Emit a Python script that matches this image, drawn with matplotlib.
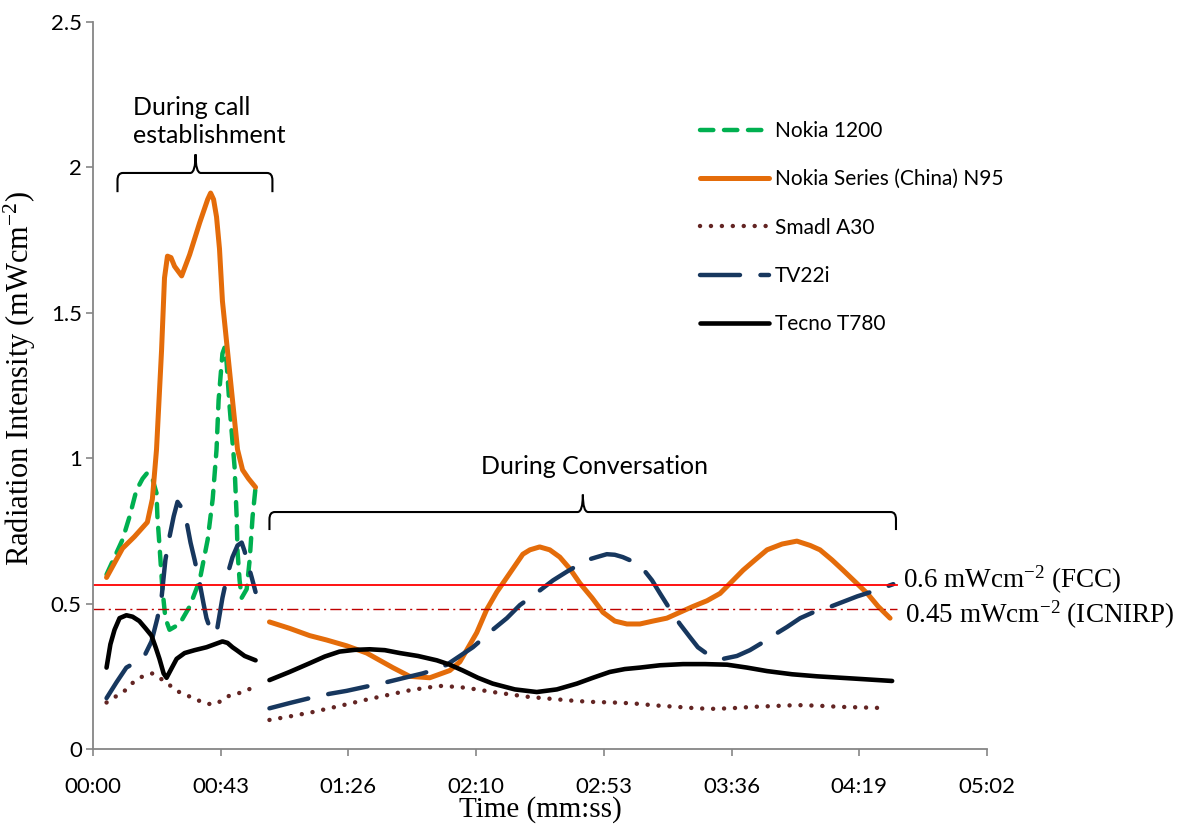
import matplotlib
matplotlib.use('Agg')
import matplotlib.pyplot as plt
from matplotlib.path import Path
from matplotlib.patches import PathPatch

plt.rcParams['mathtext.fontset'] = 'custom'
plt.rcParams['mathtext.rm'] = 'Liberation Serif'
plt.rcParams['mathtext.it'] = 'Liberation Serif:italic'
plt.rcParams['mathtext.bf'] = 'Liberation Serif:bold'

# time in seconds, intensity in mW/cm2
# --- during call establishment ---
t_call_green = [4.6, 7.3, 10.0, 12.4, 14.7, 16.8, 18.4, 20.1, 21.5, 21.8, 22.5, 23.5, 24.5,
                25.9, 29.3, 32.7, 36.1, 38.8, 40.5, 41.8, 42.5, 43.8, 44.5, 45.2, 46.2,
                47.9, 48.6, 48.9, 49.6, 50.3, 52.0, 53.0, 54.0, 55.0]
v_call_green = [0.60, 0.66, 0.72, 0.80, 0.89, 0.93, 0.95, 0.93, 0.88, 0.80, 0.70, 0.55, 0.45,
                0.41, 0.43, 0.49, 0.58, 0.72, 0.86, 1.03, 1.20, 1.36, 1.38, 1.33, 1.18,
                0.97, 0.80, 0.68, 0.58, 0.52, 0.55, 0.65, 0.80, 0.90]

t_call_orange = [4.6, 7.3, 10.0, 14.0, 18.4, 20.1, 21.5, 23.2, 24.2, 25.2, 26.4, 27.6, 30.0,
                 32.7, 36.1, 38.8, 39.8, 40.8, 41.8, 42.8, 43.8, 45.5, 47.2, 48.9, 50.6,
                 52.6, 55.0]
v_call_orange = [0.59, 0.64, 0.69, 0.73, 0.78, 0.86, 1.03, 1.37, 1.62, 1.695, 1.69, 1.66, 1.627,
                 1.70, 1.81, 1.89, 1.912, 1.89, 1.83, 1.72, 1.54, 1.37, 1.20, 1.03, 0.96,
                 0.93, 0.90]

t_call_brown = [4.6, 7.6, 10.7, 13.7, 16.8, 20.1, 23.2, 25.9, 28.3, 31.7, 35.0, 38.4, 41.8,
                45.2, 48.6, 52.0, 55.0]
v_call_brown = [0.16, 0.18, 0.20, 0.23, 0.25, 0.26, 0.24, 0.22, 0.20, 0.185, 0.17, 0.155, 0.155,
                0.18, 0.19, 0.20, 0.22]

t_call_navy = [4.6, 8.0, 11.3, 14.7, 17.4, 19.8, 21.8, 23.2, 24.5, 25.9, 27.3, 28.6, 30.0,
               31.7, 33.0, 34.4, 36.1, 37.4, 38.4, 40.1, 41.8, 42.8, 43.8, 45.5, 47.2,
               48.9, 50.3, 51.3, 52.3, 53.7, 55.0]
v_call_navy = [0.175, 0.23, 0.28, 0.30, 0.32, 0.37, 0.45, 0.52, 0.65, 0.73, 0.80, 0.85, 0.83,
               0.78, 0.71, 0.65, 0.57, 0.50, 0.45, 0.40, 0.40, 0.46, 0.52, 0.60, 0.66,
               0.70, 0.71, 0.68, 0.64, 0.59, 0.54]

t_call_black = [4.6, 5.9, 7.3, 9.0, 11.3, 13.4, 15.7, 17.8, 19.8, 21.2, 22.5, 23.9, 24.9,
                26.2, 28.3, 31.0, 34.4, 38.4, 41.1, 43.8, 45.5, 47.2, 48.6, 51.3, 55.0]
v_call_black = [0.28, 0.36, 0.41, 0.45, 0.46, 0.455, 0.44, 0.415, 0.39, 0.35, 0.31, 0.26, 0.245,
                0.27, 0.31, 0.33, 0.34, 0.35, 0.36, 0.37, 0.365, 0.35, 0.34, 0.32, 0.305]

# --- during conversation ---
t_conv_orange = [59.7, 66.5, 73.3, 79.0, 85.8, 92.6, 101.4, 107.1, 113.9, 120.7, 124.1, 126.4,
                 129.8, 133.2, 136.6, 140.0, 142.7, 145.4, 147.8, 151.1, 154.5, 157.9, 161.3,
                 164.7, 168.8, 172.5, 176.5, 180.6, 185.0, 189.4, 194.1, 198.5, 202.9, 207.7,
                 212.1, 216.5, 219.9, 223.9, 228.0, 233.1, 238.1, 242.6, 245.9, 250.0, 253.7,
                 257.8, 261.9, 265.6, 269.6]
v_conv_orange = [0.437, 0.415, 0.39, 0.375, 0.355, 0.33, 0.28, 0.25, 0.245, 0.27, 0.30, 0.34,
                 0.40, 0.48, 0.54, 0.59, 0.63, 0.67, 0.685, 0.695, 0.685, 0.66, 0.62,
                 0.57, 0.52, 0.47, 0.44, 0.43, 0.43, 0.44, 0.45, 0.47, 0.49, 0.51,
                 0.535, 0.58, 0.615, 0.65, 0.685, 0.705, 0.715, 0.70, 0.685, 0.65, 0.615,
                 0.575, 0.535, 0.49, 0.45]

t_conv_brown = [59.7, 66.5, 74.3, 83.4, 92.6, 99.4, 106.1, 112.2, 117.3, 124.1, 129.8, 135.2,
                141.0, 146.7, 152.2, 157.9, 163.7, 169.1, 175.9, 182.6, 190.1, 197.5, 202.9,
                208.7, 215.5, 223.3, 230.7, 238.1, 245.3, 252.7, 260.2, 267.3]
v_conv_brown = [0.10, 0.112, 0.127, 0.148, 0.17, 0.185, 0.20, 0.21, 0.217, 0.213, 0.205, 0.196,
                0.188, 0.18, 0.175, 0.17, 0.165, 0.162, 0.16, 0.157, 0.15, 0.145, 0.141,
                0.138, 0.14, 0.145, 0.148, 0.151, 0.149, 0.145, 0.143, 0.141]

t_conv_navy = [59.7, 66.5, 73.3, 80.1, 85.8, 92.6, 99.4, 105.4, 111.5, 116.3, 119.7, 124.1,
               128.5, 131.9, 135.2, 140.0, 144.4, 147.8, 151.1, 155.6, 160.3, 163.7, 167.1,
               170.4, 173.8, 176.5, 179.2, 182.6, 186.0, 189.1, 191.8, 195.2, 198.5, 201.9,
               204.6, 208.7, 213.1, 217.8, 222.2, 226.3, 230.0, 234.8, 239.2, 243.6, 248.3,
               253.4, 258.5, 264.6, 270.7]
v_conv_navy = [0.14, 0.158, 0.175, 0.19, 0.20, 0.215, 0.23, 0.245, 0.26, 0.275, 0.29, 0.32,
               0.35, 0.38, 0.41, 0.45, 0.495, 0.52, 0.545, 0.58, 0.61, 0.63, 0.65,
               0.66, 0.67, 0.668, 0.66, 0.645, 0.62, 0.58, 0.535, 0.48, 0.43, 0.385,
               0.35, 0.32, 0.31, 0.32, 0.34, 0.365, 0.39, 0.42, 0.45, 0.47, 0.485,
               0.505, 0.525, 0.545, 0.567]

t_conv_black = [59.7, 66.5, 73.3, 78.4, 83.4, 88.5, 93.6, 98.7, 103.8, 109.9, 116.3, 120.7,
                125.1, 130.2, 135.2, 142.7, 150.1, 156.9, 163.7, 169.1, 174.8, 179.9, 185.0,
                191.8, 199.6, 207.0, 214.5, 221.2, 228.0, 236.5, 244.9, 257.8, 270.3]
v_conv_black = [0.237, 0.265, 0.295, 0.318, 0.335, 0.341, 0.343, 0.34, 0.33, 0.32, 0.305, 0.29,
                0.27, 0.245, 0.225, 0.205, 0.196, 0.205, 0.225, 0.245, 0.265, 0.275, 0.28,
                0.288, 0.292, 0.292, 0.29, 0.28, 0.268, 0.257, 0.25, 0.242, 0.234]

labels = ['Nokia 1200', 'Nokia Series (China) N95', 'Smadl A30', 'TV22i', 'Tecno T780']
fcc_level = 0.565
icnirp_level = 0.48
limit_end = 272.0

x_ticks = [0, 43.2, 86.4, 129.6, 172.8, 216.0, 259.2, 302.4]
x_ticklabels = ['00:00', '00:43', '01:26', '02:10', '02:53', '03:36', '04:19', '05:02']
y_ticks = [0, 0.5, 1, 1.5, 2, 2.5]
y_ticklabels = ['0', '0.5', '1', '1.5', '2', '2.5']

SANS = ['Lato', 'DejaVu Sans']
SERIF = ['Liberation Serif', 'DejaVu Serif']

fig = plt.figure(figsize=(12.04, 8.26), dpi=100)
ax = fig.add_axes([0.0772, 0.0932, 0.7426, 0.8801])

green = dict(color='#00B050', lw=3.2, linestyle=(0, (3.0, 2.4)), dash_capstyle='round')
orange = dict(color='#E46C0A', lw=3.6, solid_capstyle='round', solid_joinstyle='round')
brown = dict(color='#632523', lw=3.2, linestyle=(0, (0.01, 2.45)), dash_capstyle='round')
navy = dict(color='#17375E', lw=3.2, linestyle=(0, (9.0, 4.6)), dash_capstyle='round')
black = dict(color='black', lw=3.3, solid_capstyle='round', solid_joinstyle='round')

ax.plot(t_call_green, v_call_green, label=labels[0], **green)
ax.plot(t_call_orange, v_call_orange, label=labels[1], **orange)
ax.plot(t_call_brown, v_call_brown, label=labels[2], **brown)
ax.plot(t_call_navy, v_call_navy, label=labels[3], **navy)
ax.plot(t_call_black, v_call_black, label=labels[4], **black)

ax.plot(t_conv_orange, v_conv_orange, **orange)
ax.plot(t_conv_brown, v_conv_brown, **brown)
ax.plot(t_conv_navy, v_conv_navy, **navy)
ax.plot(t_conv_black, v_conv_black, **black)

# exposure limits
ax.plot([0, limit_end], [fcc_level, fcc_level], color='#FF0000', lw=1.3)
ax.plot([0, limit_end], [icnirp_level, icnirp_level], color='#C00000', lw=1.0,
        linestyle=(0, (8, 3, 1.5, 3)))
ax.text(274.0, 0.582, '0.6 mWcm$^{-2}$ (FCC)', fontsize=19.5, family=SERIF,
        va='center', ha='left', clip_on=False)
ax.text(274.6, 0.462, '0.45 mWcm$^{-2}$ (ICNIRP)', fontsize=19.5, family=SERIF,
        va='center', ha='left', clip_on=False)


def brace(x0, x1, xtip, yend, ybar, ytip, rx, ry):
    verts = [(x0, yend), (x0, ybar - ry), (x0, ybar), (x0 + rx, ybar),
             (xtip - rx, ybar), (xtip, ybar), (xtip, ytip),
             (xtip, ybar), (xtip + rx, ybar),
             (x1 - rx, ybar), (x1, ybar), (x1, ybar - ry), (x1, yend)]
    codes = [Path.MOVETO, Path.LINETO, Path.CURVE3, Path.CURVE3,
             Path.LINETO, Path.CURVE3, Path.CURVE3,
             Path.CURVE3, Path.CURVE3,
             Path.LINETO, Path.CURVE3, Path.CURVE3, Path.LINETO]
    ax.add_patch(PathPatch(Path(verts, codes), fill=False, lw=1.5, ec='black',
                           clip_on=False))


brace(8.3, 60.7, 34.7, 1.915, 1.981, 2.045, 1.8, 0.025)
brace(59.7, 271.6, 165.7, 0.753, 0.815, 0.875, 1.8, 0.025)

ax.text(13.4, 2.158, 'During call\nestablishment', fontsize=18, family=SANS,
        ha='left', va='center', multialignment='left', linespacing=1.25)
ax.text(169.8, 0.973, 'During Conversation', fontsize=18, family=SANS,
        ha='center', va='center')

ax.set_xlim(0, 302.4)
ax.set_ylim(0, 2.5)
ax.set_xticks(x_ticks)
ax.set_xticklabels(x_ticklabels, family=SANS, fontsize=16)
ax.set_yticks(y_ticks)
ax.set_yticklabels(y_ticklabels, family=SANS, fontsize=16)
ax.tick_params(axis='x', length=5, width=1.2, color='#868686', pad=15)
ax.tick_params(axis='y', length=5, width=1.2, color='#868686', pad=3)
for s in ['top', 'right']:
    ax.spines[s].set_visible(False)
for s in ['left', 'bottom']:
    ax.spines[s].set_color('#868686')
    ax.spines[s].set_linewidth(1.3)

ax.set_xlabel('Time (mm:ss)', family=SERIF, fontsize=21)
ax.xaxis.set_label_coords(0.5, -0.065)
ax.set_ylabel('Radiation Intensity (mWcm$^{-2}$)', family=SERIF, fontsize=22)
ax.yaxis.set_label_coords(-0.061, 0.51)

ax.legend(loc='upper left', bbox_to_anchor=(700 / 1204, 1 - 121 / 826),
          bbox_transform=fig.transFigure, frameon=False, prop={'family': SANS, 'size': 15},
          handlelength=3.3, handletextpad=0.3, labelspacing=1.36, borderpad=0,
          borderaxespad=0)

fig.savefig('out.png', dpi=100)
